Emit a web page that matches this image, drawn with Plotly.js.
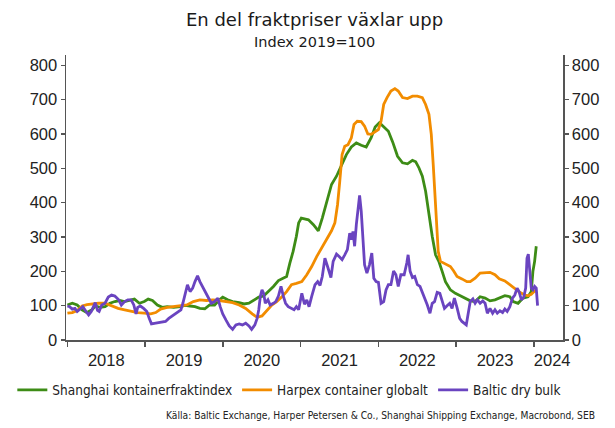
<!DOCTYPE html>
<html>
<head>
<meta charset="utf-8">
<script src="https://cdn.plot.ly/plotly-3.0.1.min.js"></script>
<style>
html,body{margin:0;padding:0;background:#fff;}
#chart{width:615px;height:428px;}
</style>
</head>
<body>
<div id="chart"></div>
<script>
// ---- Data (index 2019 = 100), x in decimal years ----
const seriesNames = ['Shanghai kontainerfraktindex', 'Harpex container globalt', 'Baltic dry bulk'];
const seriesColors = ['#3d8c16', '#f28c00', '#6a44c0'];

const shanghaiYears = [2018.000,2018.063,2018.126,2018.189,2018.252,2018.316,2018.358,2018.421,2018.484,2018.547,2018.610,2018.673,2018.736,2018.799,2018.862,2018.926,2018.989,
  2019.039,2019.094,2019.157,2019.220,2019.283,2019.367,2019.451,2019.515,2019.578,2019.641,2019.704,2019.767,2019.830,2019.893,2019.956,2019.998,
  2020.061,2020.125,2020.209,2020.272,2020.335,2020.398,2020.461,2020.524,2020.587,2020.650,2020.714,2020.777,2020.819,2020.861,2020.903,2020.945,2020.974,
  2021.008,2021.100,2021.164,2021.227,2021.278,2021.333,2021.397,2021.461,2021.525,2021.588,2021.652,2021.716,2021.779,2021.843,2021.907,2021.958,
  2022.013,2022.077,2022.128,2022.183,2022.246,2022.310,2022.374,2022.438,2022.480,2022.522,2022.565,2022.607,2022.650,2022.692,2022.735,2022.777,2022.820,2022.862,2022.926,2022.990,
  2023.053,2023.117,2023.181,2023.244,2023.308,2023.372,2023.435,2023.499,2023.563,2023.626,2023.690,2023.733,2023.796,2023.860,2023.924,2023.966,2023.987,
  2024.009,2024.030];
const shanghaiValues = [102,107,102,88,80,88,99,95,97,107,112,115,112,115,119,107,112,
  119,115,102,95,97,95,97,101,99,97,92,91,102,102,117,125,
  117,112,109,105,107,117,125,128,141,156,173,180,185,224,258,302,341,
  355,350,336,318,355,404,453,477,511,540,562,574,567,562,589,620,
  633,620,608,577,535,516,513,523,519,501,477,433,365,302,248,229,200,170,146,136,
  129,122,114,112,126,122,114,117,124,129,126,112,107,122,126,141,200,
  229,273];

const harpexYears = [2018.000,2018.063,2018.126,2018.189,2018.252,2018.316,2018.400,2018.484,2018.568,2018.652,2018.736,2018.820,2018.904,2018.989,
  2019.073,2019.136,2019.199,2019.283,2019.367,2019.451,2019.536,2019.620,2019.704,2019.788,2019.872,2019.956,
  2020.040,2020.125,2020.209,2020.293,2020.377,2020.440,2020.503,2020.566,2020.629,2020.692,2020.756,2020.819,2020.882,2020.945,
  2021.015,2021.079,2021.142,2021.206,2021.270,2021.333,2021.397,2021.440,2021.474,2021.503,2021.533,2021.567,2021.609,2021.652,2021.686,2021.728,2021.779,2021.822,2021.864,2021.907,2021.949,
  2022.000,2022.034,2022.068,2022.111,2022.161,2022.212,2022.255,2022.310,2022.374,2022.438,2022.501,2022.565,2022.607,2022.650,2022.680,2022.705,2022.726,2022.747,2022.769,2022.798,2022.862,2022.926,2022.968,
  2023.011,2023.074,2023.138,2023.181,2023.244,2023.308,2023.372,2023.435,2023.499,2023.554,2023.626,2023.690,2023.754,2023.818,2023.881,2023.924,2023.966,
  2024.009,2024.030];
const harpexValues = [78,80,86,99,103,105,107,107,99,92,88,83,80,78,
  76,80,90,95,97,99,102,112,117,115,117,115,
  112,109,102,92,76,66,70,86,102,112,125,141,161,165,
  170,190,214,243,268,292,318,341,394,462,540,564,569,589,628,637,636,623,600,599,606,
  613,637,686,706,725,732,725,706,703,710,710,706,686,657,599,511,414,326,258,229,221,214,201,
  185,178,170,170,180,195,197,197,190,178,172,161,149,139,131,129,133,
  143,141];

const balticYears = [2018.000,2018.029,2018.063,2018.097,2018.126,2018.168,2018.198,2018.240,2018.273,2018.307,2018.337,2018.358,2018.387,2018.408,2018.442,2018.484,2018.526,2018.568,2018.610,2018.660,2018.694,2018.736,2018.778,2018.820,2018.854,2018.883,2018.904,2018.938,2018.980,
  2019.022,2019.052,2019.081,2019.136,2019.199,2019.262,2019.304,2019.346,2019.388,2019.430,2019.460,2019.485,2019.515,2019.544,2019.578,2019.611,2019.641,2019.674,2019.704,2019.737,2019.767,2019.809,2019.851,2019.893,2019.935,2019.965,2019.998,
  2020.040,2020.082,2020.125,2020.167,2020.209,2020.251,2020.293,2020.335,2020.369,2020.411,2020.440,2020.461,2020.482,2020.503,2020.524,2020.545,2020.579,2020.608,2020.650,2020.680,2020.714,2020.747,2020.777,2020.806,2020.840,2020.882,2020.915,2020.945,2020.974,
  2021.015,2021.049,2021.079,2021.108,2021.142,2021.185,2021.219,2021.249,2021.278,2021.312,2021.346,2021.389,2021.418,2021.461,2021.495,2021.533,2021.567,2021.601,2021.631,2021.652,2021.673,2021.694,2021.716,2021.737,2021.758,2021.779,2021.801,2021.822,2021.852,2021.885,2021.915,2021.941,2021.970,
  2022.000,2022.034,2022.068,2022.098,2022.128,2022.161,2022.195,2022.225,2022.255,2022.289,2022.331,2022.365,2022.382,2022.408,2022.438,2022.467,2022.501,2022.535,2022.565,2022.595,2022.629,2022.663,2022.692,2022.722,2022.756,2022.790,2022.820,2022.849,2022.883,2022.917,2022.947,2022.977,
  2023.011,2023.045,2023.074,2023.104,2023.130,2023.159,2023.181,2023.215,2023.244,2023.274,2023.308,2023.342,2023.372,2023.401,2023.435,2023.469,2023.499,2023.529,2023.563,2023.597,2023.626,2023.656,2023.690,2023.724,2023.754,2023.784,2023.809,2023.839,2023.869,2023.894,2023.911,2023.928,2023.945,2023.966,2023.987,
  2024.009,2024.030,2024.047];
const balticValues = [99,97,90,92,83,90,97,83,73,83,99,109,86,83,102,107,125,131,128,117,102,112,117,117,102,76,95,99,92,
  83,63,47,49,51,54,63,70,78,83,88,107,131,161,141,151,170,187,170,156,146,127,107,112,122,97,76,
  58,41,31,44,47,44,49,41,31,44,63,88,128,146,136,107,117,102,107,112,128,156,128,107,97,92,88,97,88,
  136,104,117,97,127,161,170,159,185,238,214,182,229,250,243,234,248,263,311,292,316,273,336,384,421,375,302,219,195,219,253,180,170,
  168,107,112,146,161,161,201,190,156,190,190,224,248,200,182,185,161,156,139,127,102,78,107,112,139,136,112,92,100,107,92,122,
  94,63,54,49,44,83,112,120,107,117,107,114,107,78,92,78,88,78,85,80,90,83,97,122,131,151,141,117,124,151,238,250,200,151,146,
  156,151,100];

// ---- Axis labels ----
const yearBoundaries = [2018, 2019, 2020, 2021, 2022, 2023, 2024];
const yearLabelPositions = [2018.5, 2019.5, 2020.5, 2021.5, 2022.5, 2023.5, 2024.235];
const yearLabels = ['2018', '2019', '2020', '2021', '2022', '2023', '2024'];
const yTickVals = [0, 100, 200, 300, 400, 500, 600, 700, 800];

const titleText = 'En del fraktpriser växlar upp';
const subtitleText = 'Index 2019=100';
const sourceText = 'Källa: Baltic Exchange, Harper Petersen &amp; Co., Shanghai Shipping Exchange, Macrobond, SEB';

const seriesX = [shanghaiYears, harpexYears, balticYears];
const seriesY = [shanghaiValues, harpexValues, balticValues];

const traces = seriesNames.map((name, i) => ({
  type: 'scatter',
  mode: 'lines',
  name: name,
  x: seriesX[i],
  y: seriesY[i],
  yaxis: i === 2 ? 'y2' : 'y',
  line: {color: seriesColors[i], width: 2.8, shape: 'linear'},
  hoverinfo: 'skip'
}));

const axisColor = '#555555';
const tickFont = {family: 'Liberation Sans, Arial, sans-serif', size: 16.5, color: '#222222'};
const narrowFont = 'DejaVu Sans Condensed, DejaVu Sans, sans-serif';

const yCommon = {
  range: [0, 830],
  tickmode: 'array',
  tickvals: yTickVals,
  ticks: 'outside',
  ticklen: 4,
  tickwidth: 1.5,
  tickcolor: axisColor,
  showline: true,
  linecolor: axisColor,
  linewidth: 1.5,
  showgrid: false,
  zeroline: false,
  tickfont: tickFont,
  fixedrange: true
};

const layout = {
  width: 615,
  height: 428,
  margin: {l: 58, r: 52, t: 55, b: 88, pad: 0},
  paper_bgcolor: '#ffffff',
  plot_bgcolor: '#ffffff',
  font: {family: 'DejaVu Sans, sans-serif', color: '#222222'},
  title: {
    text: titleText,
    font: {family: 'DejaVu Sans, sans-serif', size: 18, color: '#1a1a1a'},
    xref: 'paper', x: 0.5, xanchor: 'center',
    yref: 'container', y: 1 - 20 / 428, yanchor: 'middle'
  },
  xaxis: {
    range: [2017.982, 2024.374],
    tickmode: 'array',
    tickvals: yearLabelPositions,
    ticktext: yearLabels,
    ticks: 'outside',
    ticklen: 5,
    tickcolor: 'rgba(0,0,0,0)',
    showline: true,
    linecolor: axisColor,
    linewidth: 1.5,
    showgrid: false,
    zeroline: false,
    tickfont: tickFont,
    fixedrange: true,
    minor: {
      tickmode: 'array',
      tickvals: yearBoundaries,
      ticks: 'outside',
      ticklen: 5,
      tickwidth: 1.5,
      tickcolor: axisColor,
      showgrid: false
    }
  },
  yaxis: Object.assign({}, yCommon, {side: 'left'}),
  yaxis2: Object.assign({}, yCommon, {side: 'right', overlaying: 'y'}),
  showlegend: true,
  legend: {
    orientation: 'h',
    x: -0.108, xanchor: 'left',
    y: (340 - 390) / 285, yanchor: 'middle',
    font: {family: narrowFont, size: 13.5, color: '#222222'},
    bgcolor: 'rgba(0,0,0,0)',
    traceorder: 'normal'
  },
  annotations: [
    {
      text: subtitleText,
      xref: 'paper', yref: 'paper',
      x: 0.5, xanchor: 'center',
      y: 1 + (55 - 42) / 285, yanchor: 'middle',
      showarrow: false,
      font: {family: 'DejaVu Sans, sans-serif', size: 14.5, color: '#1a1a1a'}
    },
    {
      text: sourceText,
      xref: 'paper', yref: 'paper',
      x: (598 - 58) / 505, xanchor: 'right',
      y: (340 - 415) / 285, yanchor: 'middle',
      showarrow: false,
      font: {family: narrowFont, size: 10.2, color: '#222222'}
    }
  ],
  hovermode: false
};

Plotly.newPlot('chart', traces, layout, {staticPlot: true, displayModeBar: false});
</script>
</body>
</html>
